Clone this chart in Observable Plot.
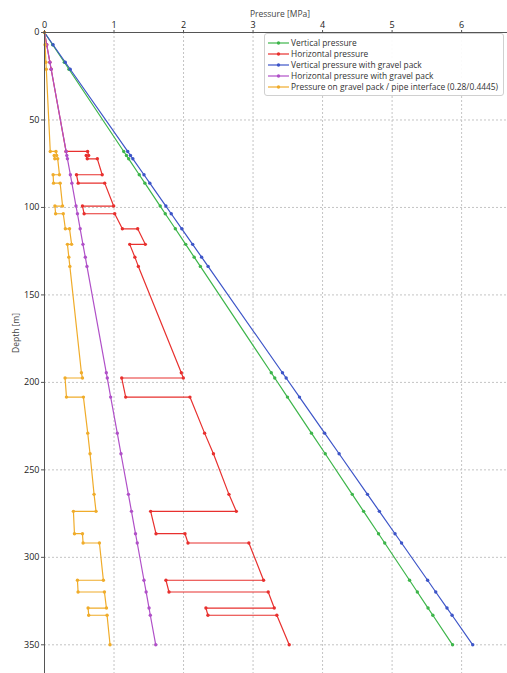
<!DOCTYPE html>
<html><head><meta charset="utf-8">
<script src="https://cdn.jsdelivr.net/npm/d3@7"></script>
<script src="https://cdn.jsdelivr.net/npm/@observablehq/plot@0.6"></script>
<style>
body{margin:0;background:#fff;font-family:"Open Sans",sans-serif;}
#wrap{position:relative;width:507px;height:673px;overflow:hidden;}
#legend{position:absolute;left:264px;top:33px;width:240px;height:63px;border:1px solid #d0d0d0;border-radius:3px;background:rgba(255,255,255,0.92);padding-top:3px;box-sizing:border-box;}
.entry{height:11.2px;display:flex;align-items:center;font-size:8.4px;line-height:10px;color:#333;white-space:nowrap;}
.entry svg{margin-left:3px;margin-right:2px;flex:none;}
</style></head><body><div id="wrap"></div>
<script>
const seriesNames = ["Vertical pressure","Horizontal pressure","Vertical pressure with gravel pack","Horizontal pressure with gravel pack","Pressure on gravel pack / pipe interface (0.28/0.4445)"];
const seriesColors = ["#3db54a","#e8302e","#3d55c8","#b050c8","#f0ac2a"];
const xTicks = [0,1,2,3,4,5,6];
const yTicks = [0,50,100,150,200,250,300,350];

// depths (m) of the layer markers on the linear curves
const markerDepths = [0,7,17,21,68,70.3,72.2,81.3,86.1,99.2,103.6,112.2,121.1,128.4,133.7,194.5,197.5,208.4,229,240.8,264,273.7,286.5,291.8,313.1,319.8,329,333.1,350];
const verticalPressure = [0,0.117,0.285,0.352,1.140,1.179,1.211,1.363,1.444,1.664,1.737,1.882,2.031,2.153,2.242,3.262,3.312,3.495,3.840,4.038,4.427,4.590,4.805,4.894,5.251,5.363,5.517,5.586,5.870];
const verticalGravel = [0,0.123,0.299,0.370,1.197,1.237,1.271,1.431,1.515,1.746,1.823,1.975,2.131,2.260,2.353,3.423,3.476,3.668,4.030,4.238,4.646,4.817,5.042,5.136,5.511,5.628,5.790,5.863,6.160];
const horizontalGravel = [0,0.032,0.078,0.096,0.311,0.321,0.330,0.372,0.394,0.453,0.474,0.513,0.553,0.587,0.611,0.889,0.903,0.952,1.047,1.100,1.207,1.251,1.309,1.334,1.431,1.462,1.504,1.522,1.600];

// depths (m) of the stepped curves (two points at each jump)
const stepDepths = [0,7,17,21,68,68,70.3,70.3,72.2,72.2,81.3,81.3,86.1,86.1,99.2,99.2,103.6,103.6,112.2,112.2,121.1,121.1,128.4,133.7,194.5,197.5,197.5,208.4,208.4,229,240.8,264,273.7,273.7,286.5,286.5,291.8,291.8,313.1,313.1,319.8,319.8,329,329,333.1,333.1,350];
const horizontalPressure = [0,0.032,0.077,0.096,0.31,0.62,0.635,0.60,0.615,0.76,0.83,0.46,0.485,0.866,0.995,0.546,0.57,1.01,1.12,1.34,1.45,1.226,1.30,1.35,1.968,1.997,1.111,1.168,2.092,2.303,2.43,2.653,2.759,1.527,1.604,2.021,2.064,2.94,3.151,1.747,1.791,3.218,3.305,2.322,2.351,3.342,3.52];
const interfacePressure = [0,0.008,0.02,0.026,0.083,0.165,0.175,0.14,0.148,0.19,0.215,0.124,0.13,0.225,0.26,0.15,0.16,0.27,0.30,0.36,0.39,0.33,0.35,0.365,0.531,0.546,0.296,0.316,0.56,0.622,0.655,0.713,0.741,0.416,0.431,0.546,0.555,0.79,0.847,0.474,0.483,0.862,0.891,0.627,0.636,0.90,0.943];

const toRows = (ps, ds, s) => ps.map((p, i) => ({p, d: ds[i], s}));
const rows = [
  ...toRows(verticalPressure, markerDepths, seriesNames[0]),
  ...toRows(horizontalPressure, stepDepths, seriesNames[1]),
  ...toRows(verticalGravel, markerDepths, seriesNames[2]),
  ...toRows(horizontalGravel, markerDepths, seriesNames[3]),
  ...toRows(interfacePressure, stepDepths, seriesNames[4])
];

const plot = Plot.plot({
  width: 507, height: 673,
  marginLeft: 44, marginRight: 0, marginTop: 32, marginBottom: 0,
  style: {fontFamily: "Open Sans, sans-serif", fontSize: "9px", color: "#222", background: "transparent"},
  x: {domain: [0, 6.66]},
  y: {domain: [0, 366.4], reverse: true},
  color: {domain: seriesNames, range: seriesColors},
  marks: [
    Plot.gridX(xTicks.slice(1), {stroke: "#c4c4c4", strokeOpacity: 1, strokeDasharray: "2,2"}),
    Plot.gridY(yTicks.slice(1), {stroke: "#c4c4c4", strokeOpacity: 1, strokeDasharray: "2,2"}),
    Plot.line(rows, {x: "p", y: "d", z: "s", stroke: "s", strokeWidth: 1.2}),
    Plot.dot(rows, {x: "p", y: "d", fill: "s", r: 1.7}),
    Plot.ruleY([0], {stroke: "#555"}),
    Plot.ruleX([0], {stroke: "#555"}),
    Plot.axisX(xTicks, {anchor: "top", tickSize: 3, tickPadding: 2, label: null, stroke: "#555"}),
    Plot.axisY(yTicks, {anchor: "left", tickSize: 3, tickPadding: 2, label: null, stroke: "#555"}),
    Plot.text(["Pressure [MPa]"], {frameAnchor: "top", dy: -22, dx: 4, fill: "#444", fontSize: 8.5}),
    Plot.text(["Depth [m]"], {frameAnchor: "left", dx: -28, rotate: -90, fill: "#444", fontSize: 8.5})
  ]
});
const wrap = document.getElementById("wrap");
wrap.appendChild(plot);

const legend = document.createElement("div");
legend.id = "legend";
seriesNames.forEach((name, i) => {
  const e = document.createElement("div");
  e.className = "entry";
  e.innerHTML = `<svg width="21" height="8"><line x1="0" y1="4" x2="21" y2="4" stroke="${seriesColors[i]}" stroke-width="1.2"/><circle cx="10.5" cy="4" r="1.7" fill="${seriesColors[i]}"/></svg><span>${name}</span>`;
  legend.appendChild(e);
});
wrap.appendChild(legend);
</script></body></html>
